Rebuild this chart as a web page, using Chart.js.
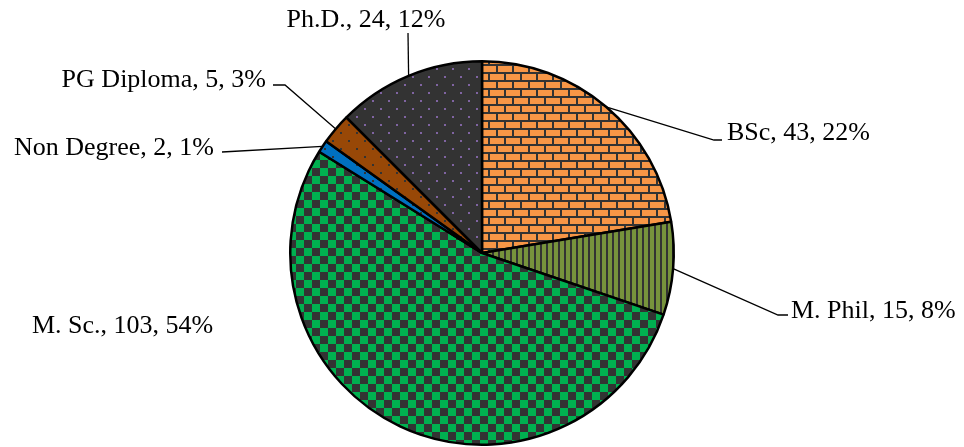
<!DOCTYPE html>
<html lang="en">
<head>
  <meta charset="UTF-8">
  <title>Qualification pie</title>
  <script src="https://cdn.jsdelivr.net/npm/chart.js"></script>
  <style>
    html, body { margin: 0; padding: 0; background: #fff; }
    #wrap { position: relative; width: 964px; height: 447px; }
  </style>
</head>
<body>
<div id="wrap"><canvas id="pieChart"></canvas></div>

<script>
const categories = ['BSc', 'M. Phil', 'M. Sc.', 'Non Degree', 'PG Diploma', 'Ph.D.'];
const counts = [43, 15, 103, 2, 5, 24];
const percents = ['22%', '8%', '54%', '1%', '3%', '12%'];

// where each label sits and how its leader line bends
const labelLayout = [
  { x: 727, y: 133, align: 'left',   bend: [714, 140], end: [722, 140] },
  { x: 791, y: 311, align: 'left',   bend: [778, 315], end: [788, 315] },
  { x: 32,  y: 326, align: 'left',   bend: null, end: null },
  { x: 214, y: 148, align: 'right',  bend: null, end: [222, 152] },
  { x: 266, y: 80,  align: 'right',  bend: [285, 85], end: [273, 85] },
  { x: 366, y: 20,  align: 'center', bend: null, end: [408, 33] }
];

function makePattern(size, draw) {
  const c = document.createElement('canvas');
  c.width = size; c.height = size;
  const g = c.getContext('2d');
  draw(g);
  return g.createPattern(c, 'repeat');
}

const DARK = '#333333';

const brick = makePattern(16, g => {
  g.fillStyle = '#F79646'; g.fillRect(0, 0, 16, 16);
  g.fillStyle = DARK;
  g.fillRect(0, 0, 16, 2); g.fillRect(0, 8, 16, 2);
  g.fillRect(0, 2, 2, 6); g.fillRect(8, 10, 2, 6);
});
const vlines = makePattern(6, g => {
  g.fillStyle = '#77933C'; g.fillRect(0, 0, 6, 6);
  g.fillStyle = DARK; g.fillRect(0, 0, 2, 6);
});
const checker = makePattern(16, g => {
  g.fillStyle = '#00B050'; g.fillRect(0, 0, 16, 16);
  g.fillStyle = DARK; g.fillRect(0, 0, 8, 8); g.fillRect(8, 8, 8, 8);
});
function dots(bg, fg) {
  return makePattern(16, g => {
    g.fillStyle = bg; g.fillRect(0, 0, 16, 16);
    g.fillStyle = fg; g.fillRect(4, 4, 2, 2); g.fillRect(12, 12, 2, 2);
  });
}
const fills = [brick, vlines, checker, dots('#0070C0', DARK), dots('#984807', DARK), dots(DARK, '#8064A2')];

const labelPlugin = {
  id: 'pieLabels',
  afterDraw(chart) {
    const ctx = chart.ctx;
    const arcs = chart.getDatasetMeta(0).data;
    ctx.save();
    ctx.font = '26px "Liberation Serif", "Times New Roman", serif';
    ctx.fillStyle = '#000';
    ctx.strokeStyle = '#000';
    ctx.lineWidth = 1.3;
    arcs.forEach((arc, i) => {
      const lay = labelLayout[i];
      const p = arc.getProps(['x', 'y', 'startAngle', 'endAngle', 'outerRadius'], true);
      const mid = (p.startAngle + p.endAngle) / 2;
      if (lay.end) {
        ctx.beginPath();
        ctx.moveTo(p.x + Math.cos(mid) * p.outerRadius, p.y + Math.sin(mid) * p.outerRadius);
        if (lay.bend) ctx.lineTo(lay.bend[0], lay.bend[1]);
        ctx.lineTo(lay.end[0], lay.end[1]);
        ctx.stroke();
      }
      ctx.textAlign = lay.align;
      ctx.textBaseline = 'middle';
      ctx.fillText(`${categories[i]}, ${counts[i]}, ${percents[i]}`, lay.x, lay.y);
    });
    ctx.restore();
  }
};

new Chart(document.getElementById('pieChart'), {
  type: 'pie',
  data: {
    labels: categories,
    datasets: [{
      data: counts,
      backgroundColor: fills,
      borderColor: '#000',
      borderWidth: 2.5
    }]
  },
  options: {
    responsive: true,
    maintainAspectRatio: false,
    animation: false,
    layout: { padding: { top: 60, bottom: 1, left: 0, right: 0 } },
    plugins: { legend: { display: false }, tooltip: { enabled: false } }
  },
  plugins: [labelPlugin]
});
</script>
</body>
</html>
